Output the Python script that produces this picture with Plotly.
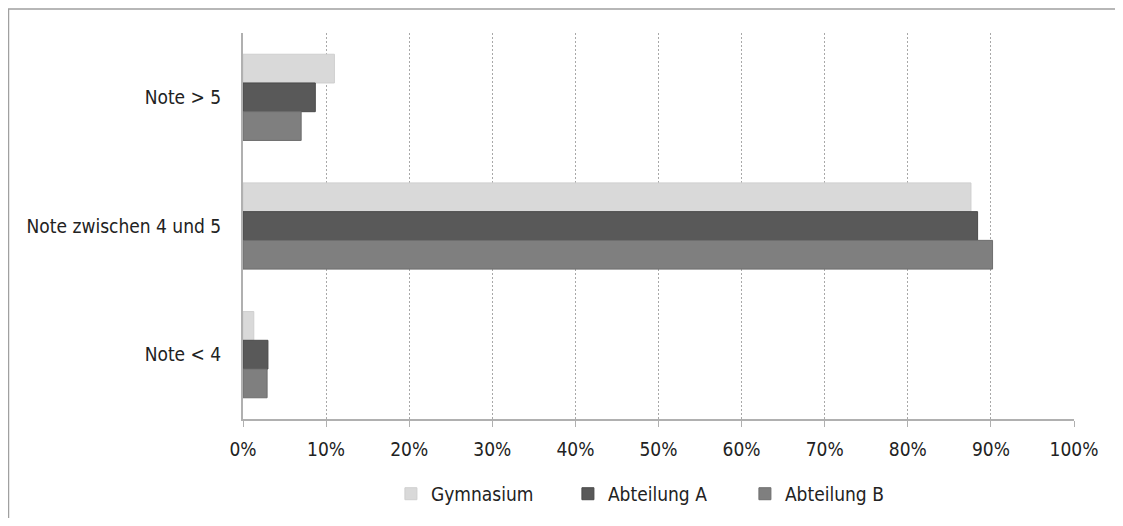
import plotly.graph_objects as go

categories = ["Note > 5", "Note zwischen 4 und 5", "Note < 4"]
series_names = ["Gymnasium", "Abteilung A", "Abteilung B"]
gymnasium = [11.0, 87.6, 1.3]
abteilung_a = [8.7, 88.4, 3.0]
abteilung_b = [7.0, 90.2, 2.9]
tick_vals = [0, 10, 20, 30, 40, 50, 60, 70, 80, 90, 100]
tick_text = [f"{v}%" for v in tick_vals]

colors = ["#d9d9d9", "#595959", "#7f7f7f"]
lines = ["#cfcfcf", "#4a4a4a", "#6e6e6e"]

fig = go.Figure()
for name, vals, c, lc in zip(series_names, [gymnasium, abteilung_a, abteilung_b], colors, lines):
    fig.add_trace(go.Bar(
        y=categories, x=vals, name=name, orientation="h",
        marker=dict(color=c, line=dict(color=lc, width=1)),
    ))

font_family = "DejaVu Sans Condensed, Liberation Sans, sans-serif"

fig.update_layout(
    width=1107, height=510,
    margin=dict(l=235, r=41, t=25, b=99, autoexpand=False),
    paper_bgcolor="white", plot_bgcolor="white",
    barmode="group", bargap=0.33, bargroupgap=0,
    font=dict(family=font_family, size=19, color="#222222"),
    xaxis=dict(
        range=[0, 100], tickvals=tick_vals, ticktext=tick_text,
        showgrid=True, gridcolor="#a8a8a8", griddash="2px,2px", gridwidth=1,
        showline=True, linecolor="#b0b0b0", linewidth=1.5,
        ticks="outside", ticklen=6, tickcolor="#b0b0b0",
        ticklabelstandoff=6, zeroline=False, fixedrange=True, automargin=False,
    ),
    yaxis=dict(
        autorange="reversed", showline=True, linecolor="#b0b0b0", linewidth=2,
        ticks="", ticklabelstandoff=16, showgrid=False, zeroline=False, automargin=False,
    ),
    legend=dict(
        orientation="h", x=0.178, xanchor="left", y=-0.194, yanchor="middle",
        entrywidth=132, entrywidthmode="pixels", itemwidth=30,
        font=dict(size=19, family=font_family), traceorder="normal",
    ),
    showlegend=True,
)

fig.add_shape(
    type="rect", xref="paper", yref="paper",
    x0=-0.2822, x1=1.2, y0=-0.5, y1=1.062,
    line=dict(color="#a0a0a0", width=1.5), fillcolor="rgba(0,0,0,0)", layer="below",
)

fig.write_html("out.html")
